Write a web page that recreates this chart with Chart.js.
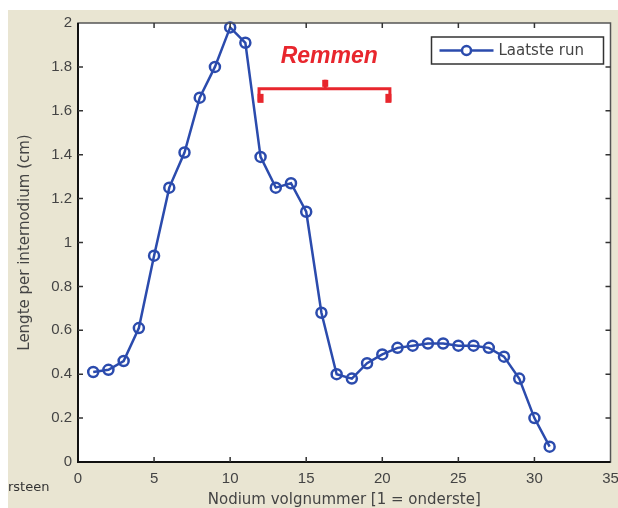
<!DOCTYPE html>
<html>
<head>
<meta charset="utf-8">
<script src="https://cdn.jsdelivr.net/npm/chart.js@4.4.1/dist/chart.umd.min.js"></script>
<style>
  html, body { margin: 0; padding: 0; background: #fff; }
  #wrap { width: 618px; height: 508px; }
</style>
</head>
<body>
<div id="wrap"><canvas id="grafiek" width="618" height="508"></canvas></div>
<script>
// Nodium volgnummer en lengte per internodium (cm), laatste run
const nodes = [1, 2, 3, 4, 5, 6, 7, 8, 9, 10, 11, 12, 13, 14, 15, 16,
               17, 18, 19, 20, 21, 22, 23, 24, 25, 26, 27, 28, 29, 30, 31];
const lengths = [0.41, 0.42, 0.46, 0.61, 0.94, 1.25, 1.41, 1.66, 1.80, 1.98, 1.91, 1.39,
                 1.25, 1.27, 1.14, 0.68, 0.40, 0.38, 0.45, 0.49, 0.52, 0.53, 0.54, 0.54,
                 0.53, 0.53, 0.52, 0.48, 0.38, 0.20, 0.07];
const xTicks = [0, 5, 10, 15, 20, 25, 30, 35];
const yTicks = [0, 0.2, 0.4, 0.6, 0.8, 1, 1.2, 1.4, 1.6, 1.8, 2];

const seriesLabel = 'Laatste run';
const xTitle = 'Nodium volgnummer [1 = onderste]';
const yTitle = 'Lengte per internodium (cm)';
const cutText = 'rsteen';

// haak "Remmen" in data-eenheden
const remmenLabel = 'Remmen';
const remmenFrom = 11.9;
const remmenTo = 20.5;
const remmenMid = 16.25;
const remmenLevel = 1.70;

const lineColor = '#2b4bad';
const red = '#e8262d';
const textColor = '#444444';
const font = '"Liberation Sans", Arial, sans-serif';
const wideFont = '"DejaVu Sans", Verdana, sans-serif';

// MATLAB-achtige opmaak: achtergrond, kader, ticks naar binnen, legenda, annotatie
const matlabLook = {
    id: 'matlabLook',
    beforeDraw(chart) {
        const { ctx, chartArea: a, width, height } = chart;
        ctx.save();
        ctx.fillStyle = '#ffffff';
        ctx.fillRect(0, 0, width, height);
        ctx.fillStyle = '#e9e5d2';
        ctx.fillRect(8, 10, width - 8, height - 10);
        ctx.fillStyle = '#ffffff';
        ctx.fillRect(a.left, a.top, a.width, a.height);
        ctx.restore();
    },
    afterDraw(chart) {
        const { ctx, chartArea: a } = chart;
        const xs = chart.scales.x, ys = chart.scales.y;
        ctx.save();

        // kader
        ctx.strokeStyle = '#555';
        ctx.lineWidth = 1.5;
        ctx.strokeRect(a.left, a.top, a.width, a.height);
        ctx.strokeStyle = '#111';
        ctx.lineWidth = 2;
        ctx.beginPath();
        ctx.moveTo(a.left, a.top);
        ctx.lineTo(a.left, a.bottom);
        ctx.lineTo(a.right, a.bottom);
        ctx.stroke();

        // ticks naar binnen
        ctx.strokeStyle = '#333';
        ctx.lineWidth = 1.5;
        ctx.beginPath();
        xTicks.slice(1, -1).forEach(v => {
            const px = xs.getPixelForValue(v);
            ctx.moveTo(px, a.bottom); ctx.lineTo(px, a.bottom - 5);
            ctx.moveTo(px, a.top); ctx.lineTo(px, a.top + 5);
        });
        yTicks.slice(1, -1).forEach(v => {
            const py = ys.getPixelForValue(v);
            ctx.moveTo(a.left, py); ctx.lineTo(a.left + 5, py);
            ctx.moveTo(a.right, py); ctx.lineTo(a.right - 5, py);
        });
        ctx.stroke();

        // haak "Remmen"
        const bl = xs.getPixelForValue(remmenFrom);
        const br = xs.getPixelForValue(remmenTo);
        const bm = xs.getPixelForValue(remmenMid);
        const by = ys.getPixelForValue(remmenLevel);
        ctx.strokeStyle = red;
        ctx.fillStyle = red;
        ctx.lineWidth = 3;
        ctx.beginPath();
        ctx.moveTo(bl, by + 13);
        ctx.lineTo(bl, by);
        ctx.lineTo(br, by);
        ctx.lineTo(br, by + 13);
        ctx.moveTo(bm, by);
        ctx.lineTo(bm, by - 9);
        ctx.stroke();
        ctx.fillRect(bl - 1.5, by + 5, 6, 9);
        ctx.fillRect(br - 4.5, by + 5, 6, 9);
        ctx.fillRect(bm - 3, by - 9, 6, 7);

        ctx.font = 'italic bold 23px ' + font;
        ctx.textAlign = 'center';
        ctx.textBaseline = 'middle';
        ctx.fillText(remmenLabel, bm + 4, by - 32);

        // legenda
        const ds = chart.data.datasets[0];
        const lx = a.right - 179, ly = a.top + 14, lw = 172, lh = 27;
        ctx.fillStyle = '#fff';
        ctx.fillRect(lx, ly, lw, lh);
        ctx.strokeStyle = '#333';
        ctx.lineWidth = 1.5;
        ctx.strokeRect(lx, ly, lw, lh);
        const cy = ly + lh / 2;
        ctx.strokeStyle = ds.borderColor;
        ctx.lineWidth = 2.5;
        ctx.beginPath();
        ctx.moveTo(lx + 8, cy); ctx.lineTo(lx + 62, cy);
        ctx.stroke();
        ctx.fillStyle = '#fff';
        ctx.beginPath();
        ctx.arc(lx + 35, cy, 4.5, 0, Math.PI * 2);
        ctx.fill();
        ctx.stroke();
        ctx.fillStyle = textColor;
        ctx.font = '15px ' + wideFont;
        ctx.textAlign = 'left';
        ctx.fillText(ds.label, lx + 67, cy + 1);

        // afgesneden tekst linksonder
        ctx.font = '13px ' + wideFont;
        ctx.fillStyle = '#333';
        ctx.fillText(cutText, 8, a.bottom + 26);

        ctx.restore();
    }
};

const ctx = document.getElementById('grafiek').getContext('2d');
new Chart(ctx, {
    type: 'line',
    data: {
        datasets: [{
            label: seriesLabel,
            data: nodes.map((n, i) => ({ x: n, y: lengths[i] })),
            borderColor: lineColor,
            backgroundColor: '#ffffff',
            borderWidth: 2.5,
            pointRadius: 5,
            pointBorderWidth: 2.5,
            pointBackgroundColor: 'rgba(255,255,255,0)',
            tension: 0,
            clip: false
        }]
    },
    options: {
        responsive: false,
        animation: false,
        events: [],
        layout: { padding: { left: 8, top: 23, right: 6, bottom: 0 } },
        plugins: {
            legend: { display: false },
            tooltip: { enabled: false }
        },
        scales: {
            x: {
                type: 'linear',
                min: 0,
                max: 35,
                afterBuildTicks: s => { s.ticks = xTicks.map(v => ({ value: v })); },
                afterFit: s => { s.height = 46; s.paddingLeft = 0; s.paddingRight = 0; },
                grid: { display: false, drawTicks: false },
                border: { display: false },
                ticks: { color: textColor, padding: 8, font: { family: font, size: 15 } },
                title: {
                    display: true,
                    text: xTitle,
                    color: textColor,
                    padding: { top: 0, bottom: 0 },
                    font: { family: wideFont, size: 15, lineHeight: 1 }
                }
            },
            y: {
                min: 0,
                max: 2,
                afterBuildTicks: s => { s.ticks = yTicks.map(v => ({ value: v })); },
                afterFit: s => { s.width = 70; s.paddingTop = 0; s.paddingBottom = 0; },
                grid: { display: false, drawTicks: false },
                border: { display: false },
                ticks: {
                    color: textColor,
                    padding: 6,
                    font: { family: font, size: 15 },
                    callback: v => String(+v.toFixed(1))
                },
                title: {
                    display: true,
                    text: yTitle,
                    color: textColor,
                    padding: { top: 10, bottom: 0 },
                    font: { family: wideFont, size: 15, lineHeight: 1 }
                }
            }
        }
    },
    plugins: [matlabLook]
});
</script>
</body>
</html>
